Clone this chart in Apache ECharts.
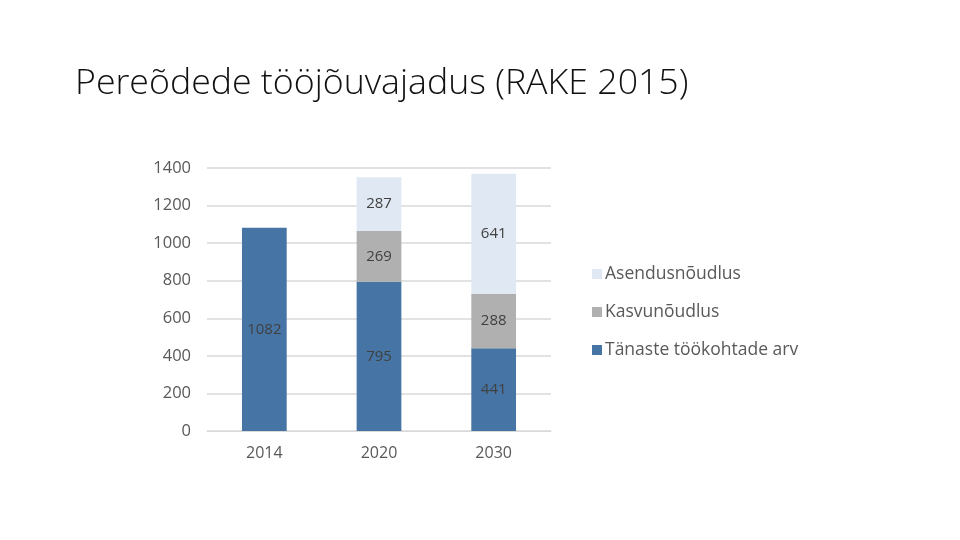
<!DOCTYPE html>
<html><head><meta charset="utf-8">
<script src="https://cdn.jsdelivr.net/npm/echarts@6/dist/echarts.min.js"></script>
<style>html,body{margin:0;padding:0;background:#fff}#c{width:960px;height:540px}</style>
</head><body><div id="c"></div>
<script>
const categories = ['2014', '2020', '2030'];
const tanaste = [1082, 795, 441];
const kasvu = [null, 269, 288];
const asendus = [null, 287, 641];
const yTicks = [0, 200, 400, 600, 800, 1000, 1200, 1400];

const chart = echarts.init(document.getElementById('c'));
const lbl = {show: true, position: 'inside', color: '#404040', fontSize: 15, fontFamily: 'Open Sans'};
chart.setOption({
  animation: false,
  title: {
    text: 'Pereõdede tööjõuvajadus (RAKE 2015)',
    left: 70, top: 61,
    textStyle: {fontFamily: 'Open Sans', fontWeight: 300, fontSize: 35.7, color: '#111'}
  },
  legend: {
    orient: 'vertical', left: 587, top: 260, itemGap: 20,
    itemWidth: 10, itemHeight: 10, icon: 'rect',
    data: ['Asendusnõudlus', 'Kasvunõudlus', 'Tänaste töökohtade arv'],
    textStyle: {fontFamily: 'Open Sans', fontSize: 17.5, color: '#595959', padding: [0, 0, 0, -2]}
  },
  grid: {left: 207, right: 409, top: 168, bottom: 109},
  xAxis: {
    type: 'category', data: categories,
    axisLine: {lineStyle: {color: '#d9d9d9'}}, axisTick: {show: false},
    axisLabel: {color: '#595959', fontSize: 16, fontFamily: 'Open Sans', margin: 14}
  },
  yAxis: {
    type: 'value', min: 0, max: 1400, interval: 200,
    axisLine: {show: false}, axisTick: {show: false},
    splitLine: {lineStyle: {color: '#d9d9d9', width: 1.5}},
    axisLabel: {color: '#595959', fontSize: 16.5, fontFamily: 'Open Sans', margin: 16,
      formatter: v => yTicks.includes(v) ? String(v) : ''}
  },
  series: [
    {name: 'Tänaste töökohtade arv', type: 'bar', stack: 's', data: tanaste, barWidth: '39%',
      itemStyle: {color: '#4674a5'}, label: lbl},
    {name: 'Kasvunõudlus', type: 'bar', stack: 's', data: kasvu,
      itemStyle: {color: '#b0b0b0'}, label: lbl},
    {name: 'Asendusnõudlus', type: 'bar', stack: 's', data: asendus,
      itemStyle: {color: '#dfe8f3'}, label: lbl}
  ]
});
</script></body></html>
